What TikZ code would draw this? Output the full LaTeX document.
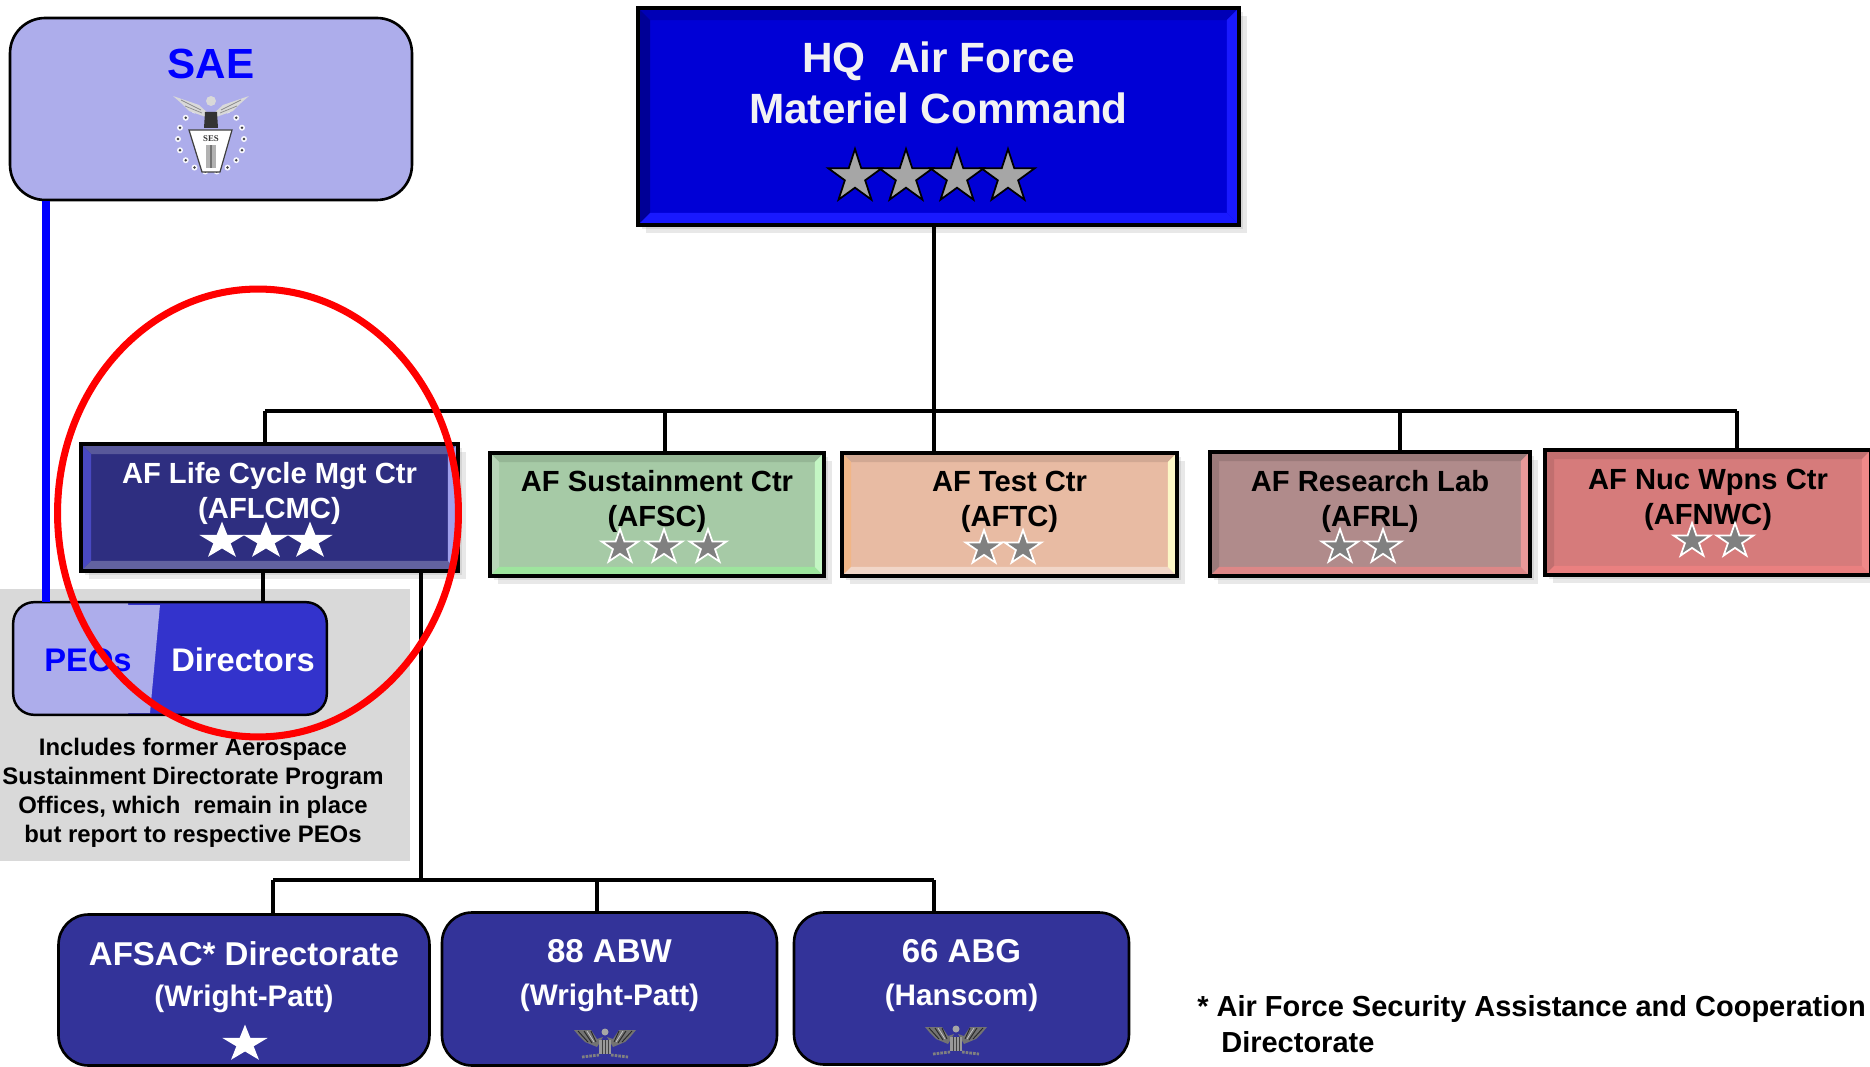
\documentclass[tikz,border=0pt]{standalone}
\usepackage{fontspec}
\setmainfont{Liberation Sans}
\newfontfamily\sesfont{Liberation Serif}
\usetikzlibrary{shapes.geometric}
\usetikzlibrary{shadows}
\definecolor{saeblue}{HTML}{ADADEB}
\definecolor{hqblue}{HTML}{0000D6}
\definecolor{lcmcblue}{HTML}{2E2E80}
\definecolor{dirblue}{HTML}{3333CC}
\definecolor{basblue}{HTML}{333399}
\definecolor{notegrey}{HTML}{D9D9D9}
\definecolor{afscfill}{HTML}{A6CAA6}
\definecolor{aftcfill}{HTML}{E8BBA3}
\definecolor{afrlfill}{HTML}{B08B8B}
\definecolor{afnwcfill}{HTML}{D67B7B}
\newcommand{\bevel}[6]{
\fill[#3] (#1.north west) -- (#1.north east) -- ([xshift=-#2,yshift=-#2]#1.north east) -- ([xshift=#2,yshift=-#2]#1.north west) -- cycle;
\fill[#4] (#1.north west) -- (#1.south west) -- ([xshift=#2,yshift=#2]#1.south west) -- ([xshift=#2,yshift=-#2]#1.north west) -- cycle;
\fill[#5] (#1.south west) -- (#1.south east) -- ([xshift=-#2,yshift=#2]#1.south east) -- ([xshift=#2,yshift=#2]#1.south west) -- cycle;
\fill[#6] (#1.north east) -- (#1.south east) -- ([xshift=-#2,yshift=#2]#1.south east) -- ([xshift=-#2,yshift=-#2]#1.north east) -- cycle;
\draw[line width=2.4pt] (#1.north west) rectangle (#1.south east);
}
\tikzset{
softshadow/.style={drop shadow={shadow xshift=0.08cm,shadow yshift=-0.08cm,opacity=0.18},
  drop shadow={shadow xshift=0.16cm,shadow yshift=-0.16cm,opacity=0.18}},
centerbox/.style={rectangle,draw=black,line width=2.4pt,softshadow,inner sep=0pt,outer sep=0pt,align=center,
  font=\fontsize{16.6}{20}\bfseries\selectfont},
basbox/.style={rectangle,rounded corners=0.6cm,draw=black,line width=1.5pt,fill=basblue,text=white,
  inner sep=0pt,align=center,font=\fontsize{18.8}{24.5}\bfseries\selectfont},
conn/.style={draw=black,line width=2.3pt},
silverstar/.style={star,star points=5,star point ratio=2.618,inner sep=0pt,minimum size=1.12cm,
  fill=black!35,draw=black,line width=1pt},
whitestar/.style={star,star points=5,star point ratio=2.618,inner sep=0pt,minimum size=0.78cm,fill=white,
  transform shape,xscale=1.22},
greystar/.style={star,star points=5,star point ratio=2.618,inner sep=0pt,minimum size=0.72cm,
  fill=black!50,draw=white,line width=1pt,transform shape,xscale=1.08},
pics/colonel/.style={code={
  \fill[black!55] (-2,-6) -- (-8,-4) -- (-14,-13) -- (-31,-13) -- (-26,-7) -- (-20,-1) -- (-8,4) -- cycle;
  \fill[black!55] (2,-6) -- (8,-4) -- (14,-13) -- (31,-13) -- (26,-7) -- (20,-1) -- (8,4) -- cycle;
  \draw[black!85,line width=0.5pt] (-9,-1) -- (-14,-12) (-13,0) -- (-21,-12) (-17,-1) -- (-27,-12);
  \draw[black!85,line width=0.5pt] (9,-1) -- (14,-12) (13,0) -- (21,-12) (17,-1) -- (27,-12);
  \draw[white!80!black,line width=0.4pt] (-11,-1) -- (-18,-12) (11,-1) -- (18,-12);
  \fill[black!40] (-6,-3) rectangle (6,11);
  \draw[black!75,line width=0.4pt] (-3,-3) -- (-3,11) (0,-3) -- (0,11) (3,-3) -- (3,11);
  \fill[black!35] (0,-11) circle (3.5);
  \draw[black!50,line width=1.6pt,dash pattern=on 1.5pt off 0.6pt] (-23,14) -- (-6,12) (6,12) -- (23,14);
}},
pics/seslogo/.style={code={
  \foreach \a in {-60,-40,...,240}{
    \fill[white!90!saeblue] (\a:33) circle (3);
    \fill[black!75] (\a:33) circle (1.4);
  }
  \fill[white!85!black] (-1,-24) -- (-12,-34) -- (-38,-43) -- (-30,-36) -- (-22,-28) -- (-8,-23) -- (-6,-22) -- cycle;
  \fill[white!85!black] (1,-24) -- (12,-34) -- (38,-43) -- (30,-36) -- (22,-28) -- (8,-23) -- (6,-22) -- cycle;
  \draw[black!45,line width=0.4pt] (-10,-29) -- (-30,-39) (-9,-26) -- (-26,-33) (10,-29) -- (30,-39) (9,-26) -- (26,-33);
  \fill[white!85!black] (0,-38) circle (5);
  \fill[black!80] (-6,-27) -- (6,-27) -- (7,-11) -- (-7,-11) -- cycle;
  \fill[white] (-22,-9) -- (21,-9) -- (9,33) -- (-9,33) -- cycle;
  \draw[black!75,line width=0.7pt] (-22,-9) -- (21,-9) -- (9,33) -- (-9,33) -- cycle;
  \fill[black!30] (-5,6) rectangle (5,29);
  \fill[black!55] (-1,6) rectangle (1,29);
}}
}
\begin{document}
\begin{tikzpicture}[x=0.02cm,y=-0.02cm]
\useasboundingbox (0,0) rectangle (1870,1067);
\fill[notegrey] (0,589) rectangle (410,861);
\coordinate (busA) at (265,411);
\coordinate (busB) at (665,411);
\coordinate (busC) at (934,411);
\coordinate (busD) at (1400,411);
\coordinate (busE) at (1737,411);
\coordinate (lowA) at (273,880);
\coordinate (lowB) at (597,880);
\coordinate (lowC) at (934,880);
\coordinate (lowStem) at (421,880);
\coordinate (peoStem) at (46,400);
\coordinate (dirStem) at (263,590);

\node (sae) at (211,109) [rectangle,rounded corners=0.7cm,draw=black,line width=1.5pt,fill=saeblue,
  minimum width=8.04cm,minimum height=3.64cm,inner sep=0pt,align=center,text=blue,
  font=\fontsize{24}{29}\bfseries\selectfont] {SAE\\[23pt]~};
\pic at (211,139) {seslogo};
\node (ses) at (211,138.5) [inner sep=0pt,font=\fontsize{5}{6}\bfseries\sesfont\selectfont,text=black!80] {SES};

\node (hq) at (938.5,116.5) [centerbox,fill=hqblue,text=white!95!black,minimum width=12.02cm,minimum height=4.34cm,
  font=\fontsize{24.1}{29}\bfseries\selectfont] {HQ\ \ Air Force\\Materiel Command\\[9pt]~};
\bevel{hq}{0.24cm}{hqblue!85!black}{hqblue!70!black}{blue!90!white}{blue!90!white}
\node (hqstarA) at (855,177) [silverstar] {};
\node (hqstarB) at (906,177) [silverstar] {};
\node (hqstarC) at (957,177) [silverstar] {};
\node (hqstarD) at (1008,177) [silverstar] {};

\draw[conn] (hq.south -| busC) -- (busC);
\draw[conn] (busA) -- (busE);

\node (aflcmc) at (269.5,507.5) [centerbox,fill=lcmcblue,text=white,minimum width=7.54cm,minimum height=2.54cm]
  {AF Life Cycle Mgt Ctr\\(AFLCMC)\\[-1pt]~};
\bevel{aflcmc}{0.2cm}{lcmcblue!80!white}{lcmcblue!60!blue!80!white}{lcmcblue!75!white}{lcmcblue!40!blue!40!white}
\node (lcmcstarA) at (222,541) [whitestar] {};
\node (lcmcstarB) at (266,541) [whitestar] {};
\node (lcmcstarC) at (310,541) [whitestar] {};

\node (afsc) at (657,514.5) [centerbox,fill=afscfill,minimum width=6.68cm,minimum height=2.46cm]
  {AF Sustainment Ctr\\(AFSC)\\[-2pt]~};
\bevel{afsc}{0.18cm}{afscfill!90!black}{afscfill!80!white}{afscfill!70!green!70!white}{afscfill!50!green!35!white}
\node (afscstarA) at (620,547) [greystar] {};
\node (afscstarB) at (664,547) [greystar] {};
\node (afscstarC) at (708,547) [greystar] {};

\node (aftc) at (1009.5,514.5) [centerbox,fill=aftcfill,minimum width=6.7cm,minimum height=2.46cm]
  {AF Test Ctr\\(AFTC)\\[-2pt]~};
\bevel{aftc}{0.18cm}{aftcfill!90!black}{aftcfill!70!orange!85!white}{aftcfill!60!white}{aftcfill!40!yellow!30!white}
\node (aftcstarA) at (984,548) [greystar] {};
\node (aftcstarB) at (1023,548) [greystar] {};

\node (afrl) at (1370,514) [centerbox,fill=afrlfill,minimum width=6.4cm,minimum height=2.48cm]
  {AF Research Lab\\(AFRL)\\[-2pt]~};
\bevel{afrl}{0.18cm}{afrlfill!88!black}{afrlfill!88!black}{afrlfill!60!red!70!white}{afrlfill!50!red!55!white}
\node (afrlstarA) at (1340,547) [greystar] {};
\node (afrlstarB) at (1383,547) [greystar] {};

\node (afnwc) at (1708,512.5) [centerbox,fill=afnwcfill,minimum width=6.52cm,minimum height=2.5cm]
  {AF Nuc Wpns Ctr\\(AFNWC)\\[-2.5pt]~};
\bevel{afnwc}{0.18cm}{afnwcfill!90!black}{afnwcfill!90!black}{afnwcfill!70!red!75!white}{afnwcfill!60!red!65!white}
\node (afnwcstarA) at (1692,541) [greystar] {};
\node (afnwcstarB) at (1735,541) [greystar] {};

\draw[conn] (aflcmc.north -| busA) -- (busA);
\draw[conn] (afsc.north -| busB) -- (busB);
\draw[conn] (aftc.north -| busC) -- (busC);
\draw[conn] (afrl.north -| busD) -- (busD);
\draw[conn] (afnwc.north -| busE) -- (busE);

\node (peodir) at (170,658.5) [rectangle,rounded corners=0.42cm,fill=dirblue,
  minimum width=6.26cm,minimum height=2.24cm,inner sep=0pt] {};
\begin{scope}
\clip[rounded corners=0.42cm] (peodir.north west) rectangle (peodir.south east);
\fill[saeblue] (0,595) -- (128,595) -- (128,605) -- (160,605) -- (150,713) -- (128,713) -- (128,725) -- (0,725) -- cycle;
\end{scope}
\draw[black,line width=1.4pt,rounded corners=0.42cm] (peodir.north west) rectangle (peodir.south east);
\node (peos) at (88,660) [text=blue,inner sep=0pt,font=\fontsize{18.6}{22}\bfseries\selectfont] {PEOs};
\node (directors) at (243,660) [text=white,inner sep=0pt,font=\fontsize{18.6}{22}\bfseries\selectfont] {Directors};
\draw[draw=blue,line width=4.5pt] (sae.south -| peoStem) -- (peodir.north -| peoStem);
\draw[conn] (aflcmc.south -| dirStem) -- (peodir.north -| dirStem);

\node (note) at (193,793) [inner sep=0pt,align=center,font=\fontsize{13.6}{16.5}\bfseries\selectfont]
  {Includes former Aerospace\\Sustainment Directorate Program\\Offices, which\ \ remain in place\\but report to respective PEOs};

\node (afsac) at (244,990) [basbox,minimum width=7.42cm,minimum height=3.02cm]
  {AFSAC* Directorate\\[-1.4pt]{\fontsize{16.9}{24.5}\selectfont (Wright-Patt)}\\[-6pt]~};
\node (afsacstar) at (245,1044) [whitestar] {};
\node (abw) at (609.5,989) [basbox,minimum width=6.7cm,minimum height=3.06cm]
  {88 ABW\\{\fontsize{16.9}{24.5}\selectfont (Wright-Patt)}\\[-6pt]~};
\pic at (605,1043) {colonel};
\node (abg) at (961.5,988.5) [basbox,minimum width=6.7cm,minimum height=3.04cm]
  {66 ABG\\{\fontsize{16.9}{24.5}\selectfont (Hanscom)}\\[-6pt]~};
\pic at (956,1040) {colonel};

\draw[conn] (aflcmc.south -| lowStem) -- (lowStem);
\draw[conn] (lowA) -- (lowC);
\draw[conn] (afsac.north -| lowA) -- (lowA);
\draw[conn] (abw.north -| lowB) -- (lowB);
\draw[conn] (abg.north -| lowC) -- (lowC);

\node (footnote) at (1197,1024.5) [anchor=west,inner sep=0pt,align=left,font=\fontsize{16.5}{20.4}\bfseries\selectfont]
  {* Air Force Security Assistance and Cooperation\\\hspace{0.48cm}Directorate};

\node (ring) at (258,513) [ellipse,draw=red,line width=4pt,minimum width=8.02cm,minimum height=8.96cm,inner sep=0pt] {};
\end{tikzpicture}
\end{document}
